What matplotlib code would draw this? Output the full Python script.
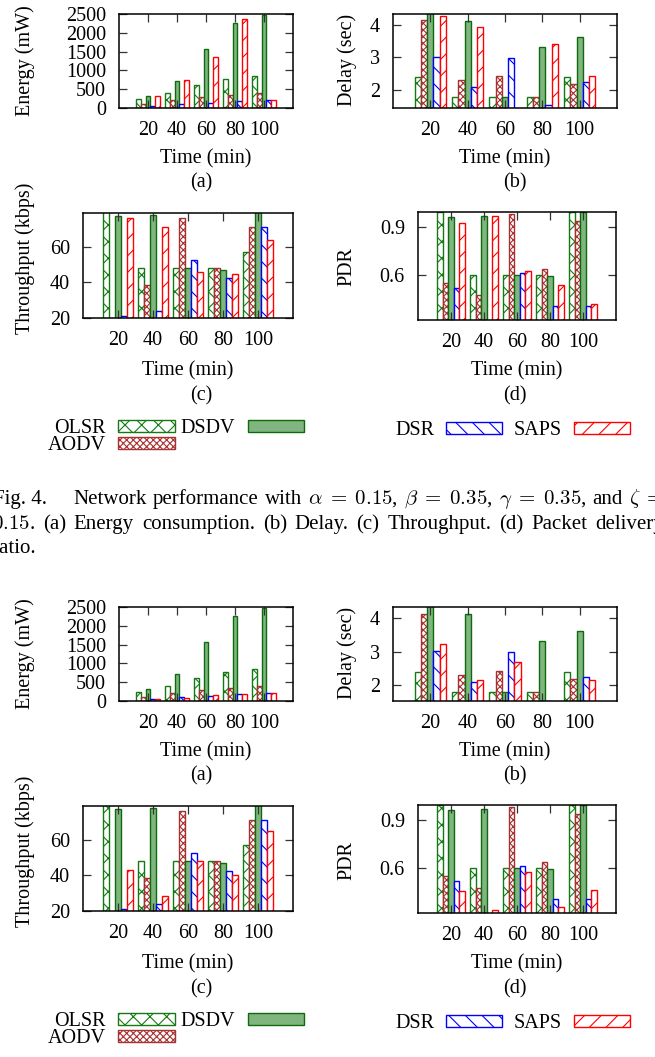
import matplotlib
matplotlib.use("Agg")
import matplotlib.pyplot as plt
import numpy as np

W, H, DPI = 655, 1057, 100
OUT_PATH = "out.png"

TIME = [20, 40, 60, 80, 100]
PROTOCOLS = ["OLSR", "AODV", "DSDV", "DSR", "SAPS"]

# values; the two figures share all but SAPS
ENERGY_OLSR = [250, 410, 620, 780, 840]
ENERGY_AODV = [100, 205, 295, 355, 410]
ENERGY_DSDV = [320, 730, 1580, 2250, 2470]
ENERGY_DSR = [58, 95, 145, 190, 222]
ENERGY_SAPS_A = [320, 740, 1360, 2360, 222]
ENERGY_SAPS_B = [62, 89, 160, 178, 222]

DELAY_OLSR = [2.41, 1.80, 1.80, 1.80, 2.39]
DELAY_AODV = [4.14, 2.32, 2.44, 1.80, 2.20]
DELAY_DSDV = [4.50, 4.13, 1.80, 3.33, 3.63]
DELAY_DSR = [3.01, 2.10, 2.99, 1.54, 2.25]
DELAY_SAPS_A = [4.28, 3.94, 1.40, 3.40, 2.44]
DELAY_SAPS_B = [3.23, 2.15, 2.69, 1.40, 2.15]

TPUT_OLSR = [82, 48, 48, 48, 57]
TPUT_AODV = [18, 38.5, 76, 48, 71]
TPUT_DSDV = [77.3, 77.8, 48, 47, 82]
TPUT_DSR = [21.2, 24, 52.4, 42.4, 71]
TPUT_SAPS_A = [76, 71.3, 46, 44.7, 64]
TPUT_SAPS_B = [43.2, 28.7, 48.3, 40.4, 65]

PDR_OLSR = [1.0, 0.60, 0.60, 0.60, 1.0]
PDR_AODV = [0.545, 0.47, 0.985, 0.636, 0.94]
PDR_DSDV = [0.968, 0.974, 0.60, 0.59, 1.0]
PDR_DSR = [0.513, 0.30, 0.613, 0.40, 0.40]
PDR_SAPS_A = [0.93, 0.974, 0.623, 0.535, 0.416]
PDR_SAPS_B = [0.454, 0.33, 0.57, 0.35, 0.456]

ENERGY_YLIM = (0, 2500)
DELAY_YLIM_A = (1.45, 4.33)
DELAY_YLIM_B = (1.53, 4.34)
TPUT_YLIM = (20, 79)
PDR_YLIM = (0.312, 0.997)

ENERGY_YTICKS = [0, 500, 1000, 1500, 2000, 2500]
DELAY_YTICKS = [2, 3, 4]
TPUT_YTICKS = [20, 40, 60]
PDR_YTICKS = [0.6, 0.9]

CAPTION_1 = [r"Network", "performance", "with", r"$\alpha\;=\;0.15$,", r"$\beta\;=\;0.35$,",
             r"$\gamma\;=\;0.35$,", "and", r"$\zeta\;=$"]
CAPTION_2 = [r"$0.15$.", "(a)", "Energy", "consumption.", "(b)", "Delay.", "(c)", "Throughput.",
             "(d)", "Packet", "delivery"]
CAPTION_3 = "ratio."

STYLES = {
    "OLSR": dict(face="white", edge="#137a13", hatch="xx"),
    "AODV": dict(face="white", edge="#a83030", hatch="xxxxx"),
    "DSDV": dict(face="#80b580", edge="#0d6a0d", hatch=None),
    "DSR": dict(face="white", edge="#0000ff", hatch="\\\\"),
    "SAPS": dict(face="white", edge="#ff0000", hatch="//"),
}

FONT = "Liberation Serif"
FS = 14.5
BAR_W = 1 / 6

plt.rcParams["font.family"] = [FONT, "DejaVu Serif"]
plt.rcParams["mathtext.fontset"] = "cm"
plt.rcParams["hatch.linewidth"] = 0.8


def fx(x):
    return x / W


def fy(y):
    return 1 - y / H


def add_px_axes(fig, box, dy):
    x0, y0, x1, y1 = box
    return fig.add_axes([fx(x0), fy(y1 + dy), (x1 - x0) / W, (y1 - y0) / H])


def draw_panel(ax, series, ylim, yticks):
    x = np.arange(len(TIME))
    for i, (name, vals) in enumerate(zip(PROTOCOLS, series)):
        st = STYLES[name]
        ax.bar(x + (i - 2) * BAR_W, vals, BAR_W, facecolor=st["face"], edgecolor=st["edge"],
               hatch=st["hatch"], linewidth=1.0, label=name)
    ax.set_xlim(-1, len(TIME))
    ax.set_ylim(*ylim)
    ax.set_xticks(x, [str(t) for t in TIME])
    ax.set_yticks(yticks)
    ax.tick_params(direction="in", top=True, right=True, length=6, width=0.9, pad=9.4,
                   labelsize=FS, color="#333333")
    for sp in ax.spines.values():
        sp.set_linewidth(1.1)


def draw_figure(fig, dy, saps_energy, saps_delay, saps_tput, saps_pdr, delay_ylim):
    ax_a = add_px_axes(fig, (119, 14, 293, 108), dy)
    ax_b = add_px_axes(fig, (393, 14, 617, 108), dy)
    ax_c = add_px_axes(fig, (83, 213, 293, 318), dy)
    ax_d = add_px_axes(fig, (418, 212, 616, 320), dy)

    draw_panel(ax_a, [ENERGY_OLSR, ENERGY_AODV, ENERGY_DSDV, ENERGY_DSR, saps_energy],
               ENERGY_YLIM, ENERGY_YTICKS)
    draw_panel(ax_b, [DELAY_OLSR, DELAY_AODV, DELAY_DSDV, DELAY_DSR, saps_delay],
               delay_ylim, DELAY_YTICKS)
    draw_panel(ax_c, [TPUT_OLSR, TPUT_AODV, TPUT_DSDV, TPUT_DSR, saps_tput],
               TPUT_YLIM, TPUT_YTICKS)
    draw_panel(ax_d, [PDR_OLSR, PDR_AODV, PDR_DSDV, PDR_DSR, saps_pdr],
               PDR_YLIM, PDR_YTICKS)

    txt = dict(fontsize=FS, ha="center", va="center")
    fig.text(fx(25), fy(61 + dy), "Energy (mW)", rotation=90, **txt)
    fig.text(fx(347), fy(60 + dy), "Delay (sec)", rotation=90, **txt)
    fig.text(fx(25), fy(258 + dy), "Throughput (kbps)", rotation=90, **txt)
    fig.text(fx(347), fy(267 + dy), "PDR", rotation=90, **txt)

    fig.text(fx(206), fy(159 + dy), "Time (min)", **txt)
    fig.text(fx(505), fy(159 + dy), "Time (min)", **txt)
    fig.text(fx(188), fy(371 + dy), "Time (min)", **txt)
    fig.text(fx(517), fy(371 + dy), "Time (min)", **txt)

    fig.text(fx(201), fy(183 + dy), "(a)", **txt)
    fig.text(fx(515), fy(183 + dy), "(b)", **txt)
    fig.text(fx(201), fy(396 + dy), "(c)", **txt)
    fig.text(fx(515), fy(396 + dy), "(d)", **txt)

    handles, labels = ax_a.get_legend_handles_labels()
    common = dict(markerfirst=False, frameon=False, loc="upper left", fontsize=FS,
                  handlelength=2.8, handleheight=0.55, borderpad=0, borderaxespad=0)
    fig.legend(handles[:3], labels[:3], ncol=2, handletextpad=0.62, columnspacing=0.3,
               labelspacing=-0.1, bbox_to_anchor=(fx(48), fy(419 + dy)), **common)
    fig.legend(handles[3:], labels[3:], ncol=2, handletextpad=0.58, columnspacing=0.58,
               bbox_to_anchor=(fx(395), fy(421 + dy)), **common)


def justify(fig, words, x0, x1, y, **kw):
    # spread words over [x0, x1] like a justified paragraph line
    renderer = fig.canvas.get_renderer()
    texts = [fig.text(0, fy(y), w, ha="left", va="baseline", **kw) for w in words]
    widths = [t.get_window_extent(renderer).width for t in texts]
    gap = (x1 - x0 - sum(widths)) / (len(words) - 1)
    x = x0
    for t, w in zip(texts, widths):
        t.set_x(fx(x))
        x += w + gap


fig = plt.figure(figsize=(W / DPI, H / DPI), dpi=DPI)

draw_figure(fig, 0, ENERGY_SAPS_A, DELAY_SAPS_A, TPUT_SAPS_A, PDR_SAPS_A, DELAY_YLIM_A)
draw_figure(fig, 593, ENERGY_SAPS_B, DELAY_SAPS_B, TPUT_SAPS_B, PDR_SAPS_B, DELAY_YLIM_B)

fig.text(fx(47), fy(504), "Fig. 4.", ha="right", va="baseline", fontsize=15)
justify(fig, CAPTION_1, 73, 664, 504, fontsize=15)
justify(fig, CAPTION_2, -8, 664, 529, fontsize=15)
fig.text(fx(-7), fy(553), CAPTION_3, ha="left", va="baseline", fontsize=15)

fig.savefig(OUT_PATH, dpi=DPI)
